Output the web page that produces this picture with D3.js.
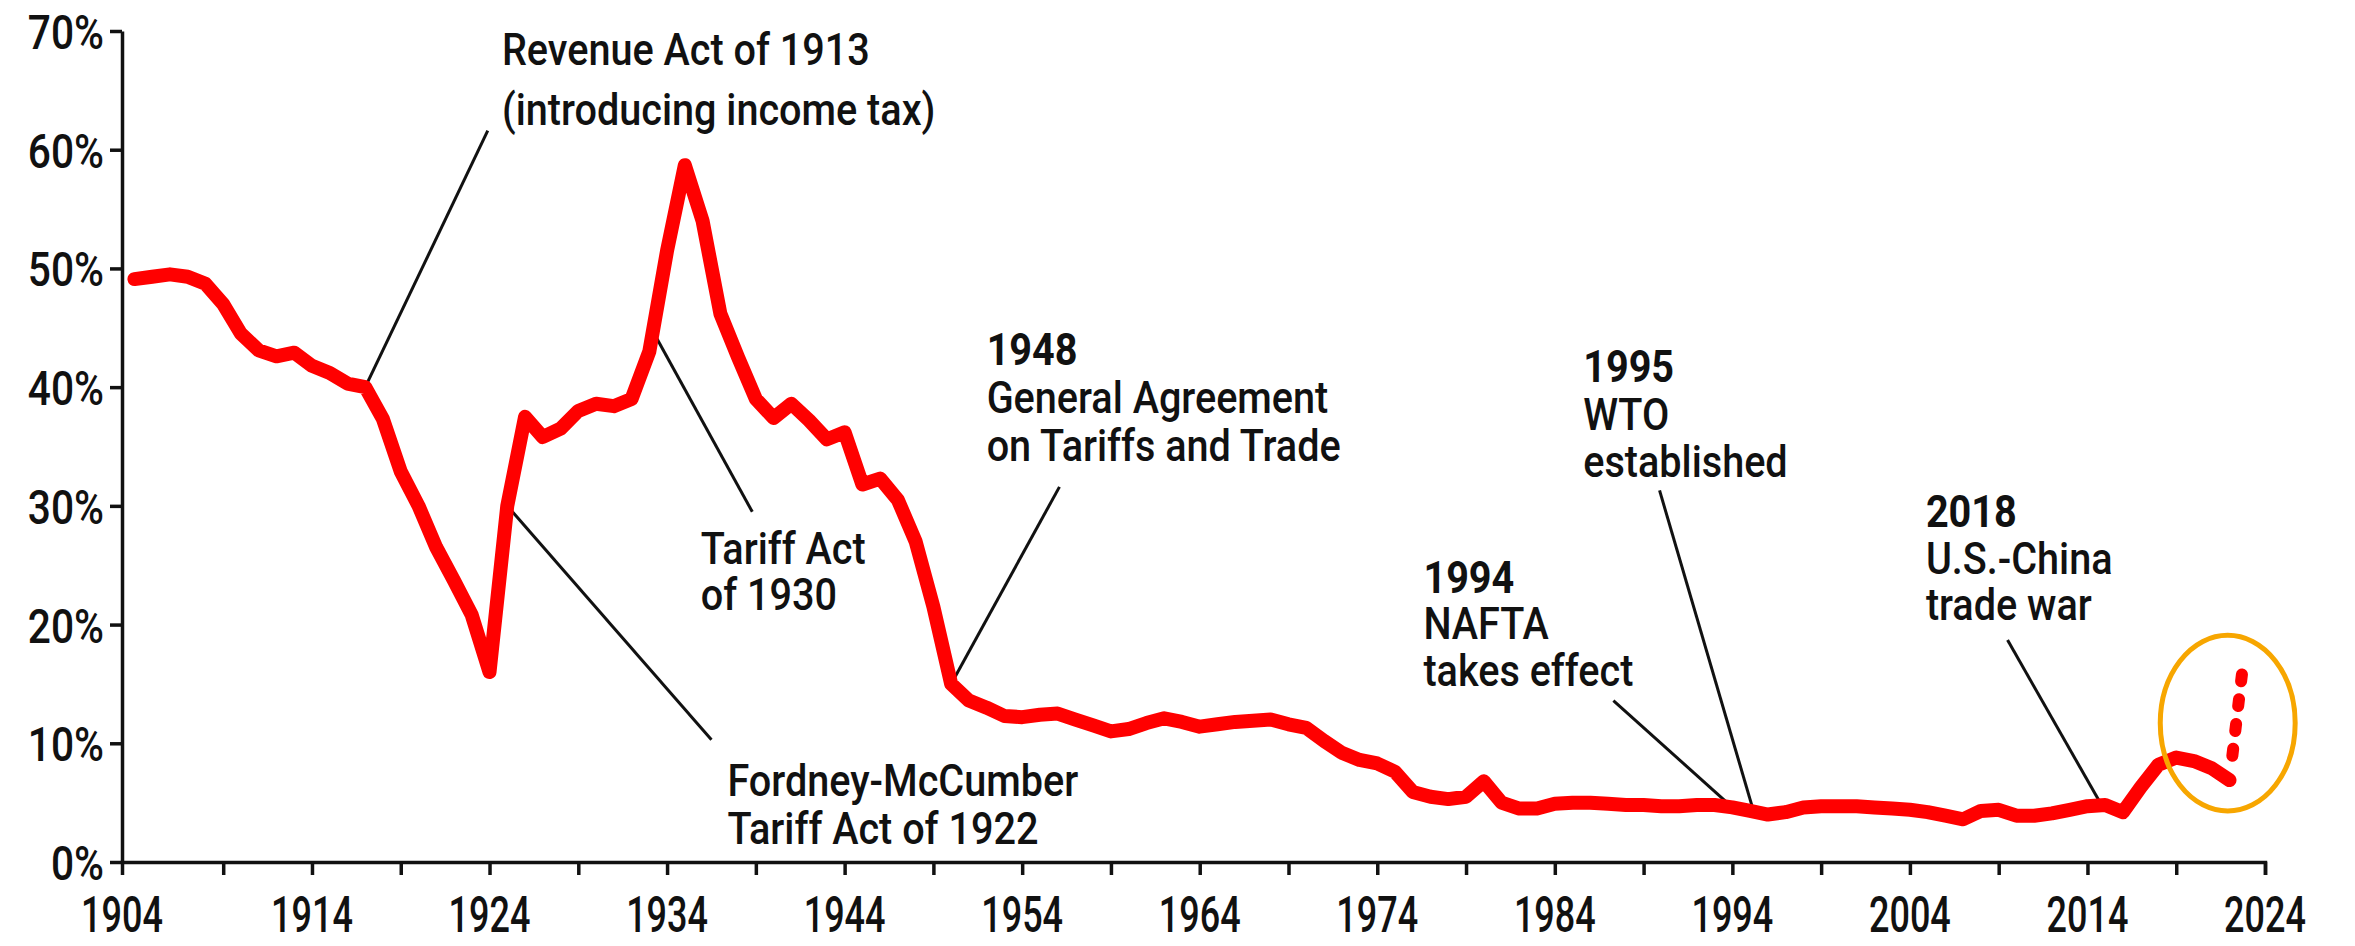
<!DOCTYPE html>
<html>
<head>
<meta charset="utf-8">
<script src="https://cdn.jsdelivr.net/npm/d3@7"></script>
<style>
  html, body { margin: 0; padding: 0; background: #fff; }
  svg { display: block; }
  text { font-family: Roboto, "Noto Sans", sans-serif; fill: #111; }
</style>
</head>
<body>
<div id="chart"></div>
<script>
// average US tariff rate
var years = [
  1904, 1905, 1906, 1907, 1908, 1909, 1910, 1911, 1912, 1913,
  1914, 1915, 1916, 1917, 1918, 1919, 1920, 1921, 1922, 1923,
  1924, 1925, 1926, 1927, 1928, 1929, 1930, 1931, 1932, 1933,
  1934, 1935, 1936, 1937, 1938, 1939, 1940, 1941, 1942, 1943,
  1944, 1945, 1946, 1947, 1948, 1949, 1950, 1951, 1952, 1953,
  1954, 1955, 1956, 1957, 1958, 1959, 1960, 1961, 1962, 1963,
  1964, 1965, 1966, 1967, 1968, 1969, 1970, 1971, 1972, 1973,
  1974, 1975, 1976, 1977, 1978, 1979, 1980, 1981, 1982, 1983,
  1984, 1985, 1986, 1987, 1988, 1989, 1990, 1991, 1992, 1993,
  1994, 1995, 1996, 1997, 1998, 1999, 2000, 2001, 2002, 2003,
  2004, 2005, 2006, 2007, 2008, 2009, 2010, 2011, 2012, 2013,
  2014, 2015, 2016, 2017, 2018, 2019, 2020, 2021, 2022
];
var tariffRate = [
  49.1, 49.3, 49.5, 49.3, 48.7, 47.0, 44.5, 43.1, 42.6, 42.9,
  41.8, 41.2, 40.3, 40.0, 37.3, 32.9, 30.0, 26.5, 23.7, 20.8,
  16.0, 30.0, 37.5, 35.8, 36.5, 38.0, 38.6, 38.4, 39.0, 43.0,
  51.5, 58.7, 54.0, 46.2, 42.5, 39.0, 37.4, 38.6, 37.2, 35.6,
  36.2, 31.8, 32.3, 30.5, 27.0, 21.5, 15.0, 13.6, 13.0, 12.3,
  12.2, 12.4, 12.5, 12.0, 11.5, 11.0, 11.2, 11.7, 12.1, 11.8,
  11.4, 11.6, 11.8, 11.9, 12.0, 11.6, 11.3, 10.2, 9.2, 8.6,
  8.3, 7.6, 5.9, 5.5, 5.3, 5.5, 6.8, 5.0, 4.5, 4.5,
  4.9, 5.0, 5.0, 4.9, 4.8, 4.8, 4.7, 4.7, 4.8, 4.8,
  4.6, 4.3, 4.0, 4.2, 4.6, 4.7, 4.7, 4.7, 4.6, 4.5,
  4.4, 4.2, 3.9, 3.6, 4.3, 4.4, 3.9, 3.9, 4.1, 4.4,
  4.7, 4.8, 4.2, 6.3, 8.2, 8.8, 8.5, 7.9, 6.9
];
// the dotted jump at the end
var projYears = [2022, 2022.7];
var projRate = [6.9, 15.8];

var yTicks = [0, 10, 20, 30, 40, 50, 60, 70];
var xTickYears = [1909, 1914, 1919, 1924, 1929, 1934, 1939, 1944, 1949, 1954, 1959, 1964, 1969,
                  1974, 1979, 1984, 1989, 1994, 1999, 2004, 2009, 2014, 2019, 2024];
var xLabelYears = [1904, 1914, 1924, 1934, 1944, 1954, 1964, 1974, 1984, 1994, 2004, 2014, 2024];

// text anchor (year, %), leader from (year, %) to the line at year
var notes = [
  {bold: null, lines: ["Revenue Act of 1913", "(introducing income tax)"], at: [1924.7, 67.1], gap: 60, from: [1923.9, 61.6], to: 1917},
  {bold: null, lines: ["Tariff Act", "of 1930"], at: [1935.9, 25.1], gap: 46, from: [1938.8, 29.5], to: 1933.2},
  {bold: null, lines: ["Fordney-McCumber", "Tariff Act of 1922"], at: [1937.4, 5.6], gap: 48, from: [1936.5, 10.3], to: 1925.0},
  {bold: "1948", lines: ["General Agreement", "on Tariffs and Trade"], at: [1952.0, 41.9], gap: 48, from: [1956.1, 31.6], to: 1950},
  {bold: "1994", lines: ["NAFTA", "takes effect"], at: [1976.6, 22.7], gap: 46.5, from: [1987.3, 13.6], to: 1994.0},
  {bold: "1995", lines: ["WTO", "established"], at: [1985.6, 40.4], gap: 47.5, from: [1989.9, 31.3], to: 1995.2},
  {bold: "2018", lines: ["U.S.-China", "trade war"], at: [2004.9, 28.2], gap: 46.5, from: [2009.5, 18.7], to: 2014.8}
];

// orange ring round the last years: centre (year, %), radii (years, %)
var ring = {cx: 2021.9, cy: 11.7, rx: 3.8, ry: 7.4};

var W = 2355, H = 946;

var x = d3.scaleLinear().domain([1903.3, 2024]).range([122, 2265]);
var y = d3.scaleLinear().domain([0, 70]).range([862, 31]);

var svg = d3.select("#chart").append("svg")
  .attr("width", W)
  .attr("height", H);

// Roboto is wider than the condensed face of the original, so squeeze it
function put(g, txt, px, py, size, weight, k, anchor) {
  return g.append("text")
    .attr("transform", "translate(" + px + "," + py + ") scale(" + k + ",1)")
    .attr("text-anchor", anchor || "start")
    .attr("font-size", size)
    .attr("font-weight", weight || 400)
    .text(txt);
}

function rateAt(yr) {
  var i = d3.bisectRight(years, yr);
  if (i <= 0) return tariffRate[0];
  if (i >= years.length) return tariffRate[years.length - 1];
  var t = (yr - years[i - 1]) / (years[i] - years[i - 1]);
  return tariffRate[i - 1] + t * (tariffRate[i] - tariffRate[i - 1]);
}

// axes
var xAxis = svg.append("g")
  .attr("transform", "translate(0," + y(0) + ")")
  .call(d3.axisBottom(x).tickValues(xTickYears).tickSize(13).tickSizeOuter(13).tickFormat(""));
xAxis.selectAll("path, line").attr("stroke", "#111").attr("stroke-width", 3.5);

var yAxis = svg.append("g")
  .attr("transform", "translate(" + x.range()[0] + ",0)")
  .call(d3.axisLeft(y).tickValues(yTicks).tickSize(12).tickSizeOuter(0).tickFormat(""));
yAxis.selectAll("path, line").attr("stroke", "#111").attr("stroke-width", 3.5);

var labels = svg.append("g");
yTicks.forEach(function(v) {
  put(labels, v + "%", x.range()[0] - 18, y(v) + 18, 49, 500, 0.83, "end");
});
xLabelYears.forEach(function(yr, i) {
  var px = i == 0 ? x.range()[0] : x(yr);
  put(labels, yr, px, 932, 50, 500, 0.72, "middle");
});

// leaders go under the red line
var leaders = svg.append("g");
notes.forEach(function(n) {
  leaders.append("line")
    .attr("x1", x(n.from[0])).attr("y1", y(n.from[1]))
    .attr("x2", x(n.to)).attr("y2", y(rateAt(n.to)))
    .attr("stroke", "#111")
    .attr("stroke-width", 3);
});

var line = d3.line()
  .x(function(d) { return x(d[0]); })
  .y(function(d) { return y(d[1]); });

svg.append("path")
  .datum(d3.zip(years, tariffRate))
  .attr("d", line)
  .attr("fill", "none")
  .attr("stroke", "#ff0000")
  .attr("stroke-width", 14)
  .attr("stroke-linejoin", "round")
  .attr("stroke-linecap", "round");

svg.append("path")
  .datum(d3.zip(projYears, projRate))
  .attr("d", line)
  .attr("fill", "none")
  .attr("stroke", "#ff0000")
  .attr("stroke-width", 12)
  .attr("stroke-linecap", "round")
  .attr("stroke-dasharray", "0 24.5 7 18 7 18 7 18 7 200");

svg.append("ellipse")
  .attr("cx", x(ring.cx))
  .attr("cy", y(ring.cy))
  .attr("rx", x(ring.cx + ring.rx) - x(ring.cx))
  .attr("ry", y(ring.cy - ring.ry) - y(ring.cy))
  .attr("fill", "none")
  .attr("stroke", "#f7a600")
  .attr("stroke-width", 5);

// annotation texts, one text element each, lines as tspans
var texts = svg.append("g");
notes.forEach(function(n) {
  var t = texts.append("text")
    .attr("transform", "translate(" + x(n.at[0]) + "," + y(n.at[1]) + ") scale(0.88,1)")
    .attr("font-size", 45)
    .attr("font-weight", 500);
  var row = 0;
  if (n.bold) {
    t.append("tspan").attr("x", 0).attr("y", 0)
      .attr("font-weight", 700)
      .text(n.bold);
    row = 1;
  }
  n.lines.forEach(function(s, i) {
    t.append("tspan").attr("x", 0).attr("y", (row + i) * n.gap).text(s);
  });
});
</script>
</body>
</html>
